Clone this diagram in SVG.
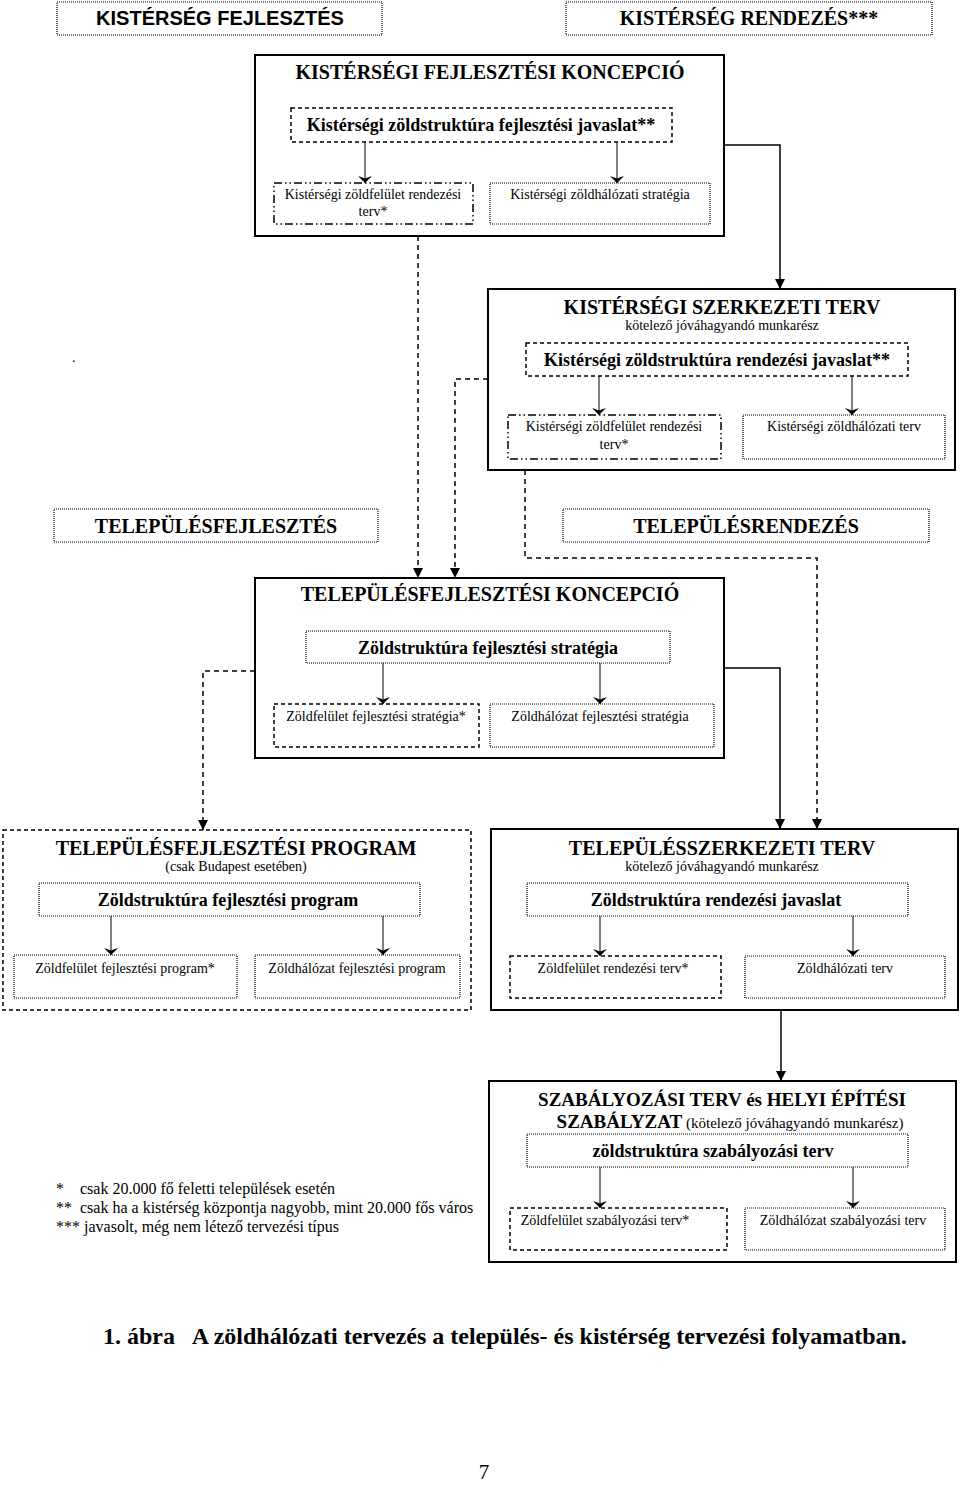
<svg xmlns="http://www.w3.org/2000/svg" width="960" height="1486" viewBox="0 0 960 1486">
<defs>
<style>
text{font-family:"Liberation Serif","Times New Roman",serif;fill:#000}
.sans{font-family:"Liberation Sans",Arial,sans-serif}
.b20{font-size:20px;font-weight:bold}
.b19{font-size:19px;font-weight:bold}
.b18{font-size:18px;font-weight:bold}
.r14{font-size:14px}
.r15{font-size:15px}
.r16{font-size:16px}
.c{text-anchor:middle}
.solid{fill:none;stroke:#000;stroke-width:2}
.dotted{fill:none;stroke:#000;stroke-width:1.2;stroke-dasharray:1 1}
.dashed{fill:none;stroke:#000;stroke-width:1.5;stroke-dasharray:4 3}
.dashdot{fill:none;stroke:#000;stroke-width:1.5;stroke-dasharray:8 3 1.5 3 1.5 3}
.conn{fill:none;stroke:#000;stroke-width:1.5}
.cd{stroke-dasharray:5 4}
.inner{fill:none;stroke:#000;stroke-width:1}
</style>
<marker id="tri" viewBox="0 0 10 10" refX="10" refY="5" markerWidth="10" markerHeight="10" markerUnits="userSpaceOnUse" orient="auto">
<path d="M0,0 L10,5 L0,10 z" fill="#000"/>
</marker>
<marker id="stealth" viewBox="0 0 7 14" refX="7" refY="7" markerWidth="7" markerHeight="14" markerUnits="userSpaceOnUse" orient="auto">
<path d="M7,7 L0,0 L2.5,7 L0,14 z" fill="#000"/>
</marker>
</defs>
<rect width="960" height="1486" fill="#fff"/>

<g id="connectors">
<polyline class="conn" points="724,145 780,145 780,289" marker-end="url(#tri)"/>
<polyline class="conn cd" points="418,236 418,578" marker-end="url(#tri)"/>
<polyline class="conn cd" points="488,379 455,379 455,578" marker-end="url(#tri)"/>
<polyline class="conn cd" points="525,470 525,558 817,558 817,829" marker-end="url(#tri)"/>
<polyline class="conn cd" points="255,671 203,671 203,830" marker-end="url(#tri)"/>
<polyline class="conn" points="724,668 780,668 780,829" marker-end="url(#tri)"/>
<polyline class="conn" points="781,1010 781,1081" marker-end="url(#tri)"/>
<line class="inner" x1="365" y1="142" x2="365" y2="183" marker-end="url(#stealth)"/>
<line class="inner" x1="617" y1="142" x2="617" y2="183" marker-end="url(#stealth)"/>
<line class="inner" x1="599" y1="376" x2="599" y2="415" marker-end="url(#stealth)"/>
<line class="inner" x1="852" y1="376" x2="852" y2="415" marker-end="url(#stealth)"/>
<line class="inner" x1="383" y1="663" x2="383" y2="704" marker-end="url(#stealth)"/>
<line class="inner" x1="600" y1="663" x2="600" y2="704" marker-end="url(#stealth)"/>
<line class="inner" x1="111" y1="916" x2="111" y2="955" marker-end="url(#stealth)"/>
<line class="inner" x1="383" y1="916" x2="383" y2="955" marker-end="url(#stealth)"/>
<line class="inner" x1="600" y1="916" x2="600" y2="956" marker-end="url(#stealth)"/>
<line class="inner" x1="853" y1="916" x2="853" y2="956" marker-end="url(#stealth)"/>
<line class="inner" x1="600" y1="1167" x2="600" y2="1208" marker-end="url(#stealth)"/>
<line class="inner" x1="853" y1="1167" x2="853" y2="1208" marker-end="url(#stealth)"/>
</g>

<g id="kisterseg-fejlesztes">
<rect class="dotted" x="57" y="2" width="325" height="33"/>
<text class="b20 c sans" x="220" y="25">KISTÉRSÉG FEJLESZTÉS</text>
</g>
<g id="kisterseg-rendezes">
<rect class="dotted" x="566" y="2" width="366" height="33"/>
<text class="b20 c" x="749" y="25">KISTÉRSÉG RENDEZÉS***</text>
</g>

<g id="kistersegi-fejlesztesi-koncepcio">
<rect class="solid" x="255" y="55" width="469" height="181"/>
<text class="b20 c" x="490" y="79">KISTÉRSÉGI FEJLESZTÉSI KONCEPCIÓ</text>
</g>
<g id="k-zoldstruktura-fejlesztesi-javaslat">
<rect class="dashed" x="291" y="108" width="381" height="34"/>
<text class="b18 c" x="481" y="131">Kistérségi zöldstruktúra fejlesztési javaslat**</text>
</g>
<g id="k-zoldfelulet-rendezesi-terv-1">
<rect class="dashdot" x="274" y="183" width="199" height="41"/>
<text class="r14 c" x="373" y="199">Kistérségi zöldfelület rendezési</text>
<text class="r14 c" x="373" y="216">terv*</text>
</g>
<g id="k-zoldhalozati-strategia">
<rect class="dotted" x="490" y="183" width="220" height="41"/>
<text class="r14 c" x="600" y="199">Kistérségi zöldhálózati stratégia</text>
</g>

<g id="kistersegi-szerkezeti-terv">
<rect class="solid" x="488" y="289" width="467" height="181"/>
<text class="b20 c" x="722" y="314">KISTÉRSÉGI SZERKEZETI TERV</text>
<text class="r14 c" x="722" y="330">kötelező jóváhagyandó munkarész</text>
</g>
<g id="k-zoldstruktura-rendezesi-javaslat">
<rect class="dashed" x="526" y="343" width="382" height="33"/>
<text class="b18 c" x="717" y="366">Kistérségi zöldstruktúra rendezési javaslat**</text>
</g>
<g id="k-zoldfelulet-rendezesi-terv-2">
<rect class="dashdot" x="508" y="415" width="213" height="44"/>
<text class="r14 c" x="614" y="431">Kistérségi zöldfelület rendezési</text>
<text class="r14 c" x="614" y="449">terv*</text>
</g>
<g id="k-zoldhalozati-terv">
<rect class="dotted" x="743" y="415" width="202" height="44"/>
<text class="r14 c" x="844" y="431">Kistérségi zöldhálózati terv</text>
</g>
<text class="r14" x="72" y="362">.</text>

<g id="telepulesfejlesztes">
<rect class="dotted" x="54" y="509" width="324" height="33"/>
<text class="b20 c" x="216" y="533">TELEPÜLÉSFEJLESZTÉS</text>
</g>
<g id="telepulesrendezes">
<rect class="dotted" x="563" y="509" width="366" height="33"/>
<text class="b20 c" x="746" y="533">TELEPÜLÉSRENDEZÉS</text>
</g>

<g id="telepulesfejlesztesi-koncepcio">
<rect class="solid" x="255" y="578" width="469" height="180"/>
<text class="b20 c" x="490" y="601">TELEPÜLÉSFEJLESZTÉSI KONCEPCIÓ</text>
</g>
<g id="zoldstruktura-fejlesztesi-strategia">
<rect class="dotted" x="306" y="631" width="364" height="32"/>
<text class="b18 c" x="488" y="654">Zöldstruktúra fejlesztési stratégia</text>
</g>
<g id="zoldfelulet-fejlesztesi-strategia">
<rect class="dashed" x="274" y="704" width="205" height="43"/>
<text class="r14 c" x="376" y="721">Zöldfelület fejlesztési stratégia*</text>
</g>
<g id="zoldhalozat-fejlesztesi-strategia">
<rect class="dotted" x="490" y="704" width="224" height="43"/>
<text class="r14 c" x="600" y="721">Zöldhálózat fejlesztési stratégia</text>
</g>

<g id="telepulesfejlesztesi-program">
<rect class="dashed" x="3" y="830" width="468" height="180"/>
<text class="b20 c" x="236" y="855">TELEPÜLÉSFEJLESZTÉSI PROGRAM</text>
<text class="r14 c" x="236" y="871">(csak Budapest esetében)</text>
</g>
<g id="zoldstruktura-fejlesztesi-program">
<rect class="dotted" x="39" y="883" width="381" height="33"/>
<text class="b18 c" x="228" y="906">Zöldstruktúra fejlesztési program</text>
</g>
<g id="zoldfelulet-fejlesztesi-program">
<rect class="dotted" x="14" y="955" width="223" height="43"/>
<text class="r14 c" x="125" y="973">Zöldfelület fejlesztési program*</text>
</g>
<g id="zoldhalozat-fejlesztesi-program">
<rect class="dotted" x="255" y="955" width="205" height="43"/>
<text class="r14 c" x="357" y="973">Zöldhálózat fejlesztési program</text>
</g>

<g id="telepulesszerkezeti-terv">
<rect class="solid" x="491" y="829" width="467" height="181"/>
<text class="b20 c" x="722" y="855">TELEPÜLÉSSZERKEZETI TERV</text>
<text class="r14 c" x="722" y="871">kötelező jóváhagyandó munkarész</text>
</g>
<g id="zoldstruktura-rendezesi-javaslat">
<rect class="dotted" x="527" y="883" width="381" height="33"/>
<text class="b18 c" x="716" y="906">Zöldstruktúra rendezési javaslat</text>
</g>
<g id="zoldfelulet-rendezesi-terv">
<rect class="dashed" x="510" y="956" width="211" height="42"/>
<text class="r14 c" x="613" y="973">Zöldfelület rendezési terv*</text>
</g>
<g id="zoldhalozati-terv">
<rect class="dotted" x="745" y="956" width="200" height="42"/>
<text class="r14 c" x="845" y="973">Zöldhálózati terv</text>
</g>

<g id="szabalyozasi-terv">
<rect class="solid" x="489" y="1081" width="467" height="181"/>
<text class="b19 c" x="722" y="1106">SZABÁLYOZÁSI TERV és HELYI ÉPÍTÉSI</text>
<text class="c" x="730" y="1128"><tspan class="b19">SZABÁLYZAT</tspan><tspan class="r15"> (kötelező jóváhagyandó munkarész)</tspan></text>
</g>
<g id="zoldstruktura-szabalyozasi-terv">
<rect class="dotted" x="527" y="1134" width="381" height="33"/>
<text class="b18 c" x="713" y="1157">zöldstruktúra szabályozási terv</text>
</g>
<g id="zoldfelulet-szabalyozasi-terv">
<rect class="dashed" x="510" y="1208" width="217" height="42"/>
<text class="r14 c" x="605" y="1225">Zöldfelület szabályozási terv*</text>
</g>
<g id="zoldhalozat-szabalyozasi-terv">
<rect class="dotted" x="745" y="1208" width="200" height="42"/>
<text class="r14 c" x="843" y="1225">Zöldhálózat szabályozási terv</text>
</g>

<g id="footnotes">
<text class="r16" x="56" y="1194">*</text>
<text class="r16" x="80" y="1194">csak 20.000 fő feletti települések esetén</text>
<text class="r16" x="56" y="1213">**</text>
<text class="r16" x="80" y="1213">csak ha a kistérség központja nagyobb, mint 20.000 fős város</text>
<text class="r16" x="56" y="1232">***</text>
<text class="r16" x="84" y="1232">javasolt, még nem létező tervezési típus</text>
</g>

<g id="caption">
<text x="103" y="1344" style="font-size:24px;font-weight:bold" xml:space="preserve">1. ábra   A zöldhálózati tervezés a település- és kistérség tervezési folyamatban.</text>
<text class="c" x="484" y="1479" style="font-size:21px">7</text>
</g>
</svg>
